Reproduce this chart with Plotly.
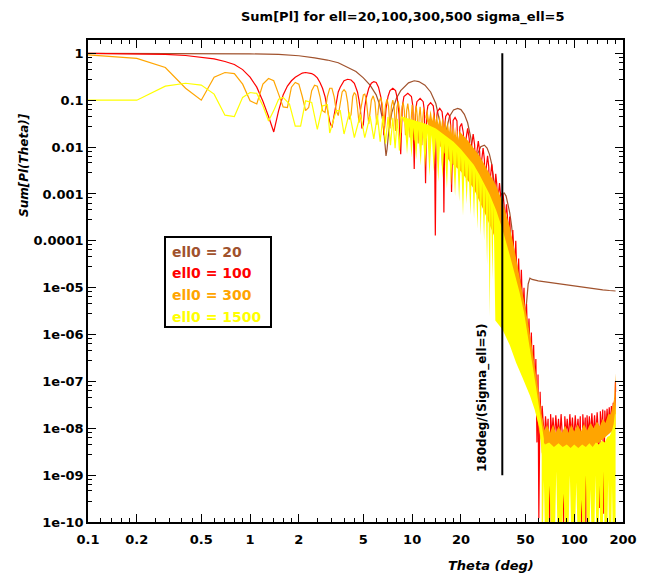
import math
import plotly.graph_objects as go

# ---- data ----
# ell0 = 20 (brown)
theta_20 = [0.1, 0.3, 0.5, 0.7, 1.0, 1.5, 2.0, 2.5, 3.0, 3.5, 4.0, 4.5, 5.0, 5.5, 6.0, 6.3, 6.6, 6.8, 6.9, 7.0,
            7.2, 7.5, 8.0, 8.5, 9.0, 9.5, 10.3, 11.0, 12.0, 13.0, 14.0, 14.8, 15.2, 15.4, 15.6, 16.0, 17.0, 18.0,
            19.1, 20.0, 21.0, 22.0, 23.0, 23.7, 24.1, 24.5, 25.5, 26.5, 27.9, 29.0, 30.0, 31.0, 32.0, 32.7, 33.1,
            33.6, 34.5, 35.5, 37.0, 38.0, 39.0, 40.0, 41.0, 42.0, 42.8, 43.4, 44.0, 45.0, 46.0, 47.0, 48.0, 49.0,
            50.0, 51.0, 52.0, 53.3, 55.0, 60.0, 70.0, 80.0, 90.0, 100.0, 113.0, 130.0, 150.0, 165.0, 180.0]
sum_20 = [1.0, 0.998, 0.995, 0.99, 0.975, 0.95, 0.89, 0.80, 0.72, 0.63, 0.51, 0.41, 0.30, 0.21, 0.13, 0.08, 0.036,
          0.014, 0.0065, 0.009, 0.025, 0.055, 0.11, 0.16, 0.20, 0.235, 0.26, 0.25, 0.21, 0.15, 0.085, 0.035, 0.012,
          0.004, 0.006, 0.018, 0.045, 0.062, 0.067, 0.063, 0.05, 0.033, 0.016, 0.006, 0.002, 0.003, 0.0075, 0.0102,
          0.011, 0.0095, 0.007, 0.0043, 0.0018, 0.0005, 0.0002, 0.0004, 0.0008, 0.001, 0.00105, 0.0009, 0.0006,
          0.0004, 0.00022, 0.0001, 2.5e-5, 5e-7, 1e-5, 1.6e-5, 1.5e-5, 1e-5, 3.5e-6, 2e-7, 2.5e-6, 7e-6, 1.2e-5,
          1.6e-5, 1.5e-5, 1.4e-5, 1.3e-5, 1.2e-5, 1.13e-5, 1.07e-5, 1.0e-5, 9.5e-6, 9.0e-6, 8.7e-6, 8.5e-6]

# ell0 = 100 (red)
theta_100 = [0.1, 0.2, 0.3, 0.4, 0.5, 0.6, 0.7, 0.8, 0.9, 1.0, 1.1, 1.2, 1.3, 1.4, 1.5, 1.6, 1.7, 1.8, 1.9, 2.0,
             2.1, 2.2, 2.3, 2.4, 2.5, 2.6, 2.7, 2.8, 2.9, 3.0, 3.1, 3.2, 3.3, 3.4, 3.5, 3.6, 3.7, 3.8, 4.0, 4.2,
             4.4, 4.5, 4.6, 4.7, 4.8, 4.9, 5.0, 5.1, 5.2, 5.4, 5.6, 5.8, 6.0, 6.2, 6.4, 6.5, 6.6, 6.7, 6.8, 6.9,
             7.1, 7.3, 7.6, 7.9, 8.1, 8.3, 8.5, 8.7, 8.9, 9.4, 9.9, 10.1, 10.3, 10.5, 10.7, 11.2, 11.7, 11.9, 12.1,
             12.3, 12.5, 13.0, 13.5, 13.7, 13.9, 14.1, 14.3, 14.8, 15.3, 15.5, 15.7, 15.9, 16.1, 16.6, 17.1, 17.3,
             17.5, 17.7, 17.9, 18.4, 18.9, 19.3, 19.7, 20.2, 20.7, 21.1, 21.5, 22.0, 22.5, 22.9, 23.3, 23.8, 24.3,
             24.7, 25.1, 25.6, 26.1, 26.5, 26.9, 27.4, 27.9, 28.3, 28.7, 29.2, 29.7, 30.1, 30.5, 31.0, 31.5, 31.9,
             32.3, 32.8, 33.3, 33.7, 34.1, 34.6, 35.1, 35.5, 35.9, 36.4, 36.9, 37.3, 37.7, 38.2, 38.7, 39.1, 39.5,
             40.0, 40.9, 41.8, 42.7, 43.6, 44.5, 45.4, 46.3, 47.2, 48.1, 49.0, 49.9, 50.8, 51.7, 52.6, 53.5, 54.4,
             55.3, 56.2, 57.1, 58.0, 58.9, 59.8, 60.5, 61.6, 62.5, 63.4, 64.5, 65.5, 66.5, 68.0, 69.0, 70.5, 71.5,
             72.8, 74.0, 75.5, 77.0, 78.5, 80.0, 81.5, 83.0, 84.5, 86.0, 87.5, 89.0, 90.5, 92.3, 94.0, 95.8, 97.5,
             99.5, 101.5, 103.5, 105.5, 107.5, 109.0, 111.0, 113.0, 115.0, 117.0, 118.0, 120.0, 122.0, 124.0,
             126.0, 128.5, 131.0, 133.5, 136.0, 138.5, 141.0, 143.0, 145.0, 147.5, 150.0, 152.0, 154.5, 157.0,
             159.5, 162.0, 164.5, 167.0, 169.5, 172.0, 174.0, 176.0, 177.5, 178.8, 179.6, 180.0]
sum_100 = [0.995, 0.98, 0.95, 0.90, 0.83, 0.76, 0.67, 0.58, 0.45, 0.31, 0.19, 0.095, 0.045, 0.021, 0.06, 0.13,
           0.20, 0.26, 0.31, 0.35, 0.38, 0.39, 0.385, 0.37, 0.34, 0.30, 0.24, 0.18, 0.12, 0.07, 0.035, 0.026,
           0.05, 0.10, 0.15, 0.19, 0.23, 0.26, 0.28, 0.27, 0.23, 0.19, 0.15, 0.10, 0.06, 0.025, 0.03, 0.07, 0.11,
           0.18, 0.23, 0.25, 0.24, 0.19, 0.12, 0.08, 0.04, 0.018, 0.035, 0.065, 0.12, 0.16, 0.18, 0.16, 0.11,
           0.05, 0.007, 0.075, 0.12, 0.14, 0.12, 0.075, 0.0034, 0.06, 0.093, 0.11, 0.093, 0.06, 0.0017, 0.05,
           0.076, 0.089, 0.076, 0.05, 0.00013, 0.037, 0.057, 0.067, 0.057, 0.037, 0.0004, 0.029, 0.045, 0.053,
           0.045, 0.029, 0.0011, 0.024, 0.037, 0.043, 0.036, 0.004, 0.027, 0.032, 0.02, 0.003, 0.015, 0.025,
           0.015, 0.0025, 0.011, 0.019, 0.011, 0.002, 0.008, 0.0135, 0.008, 0.0015, 0.0055, 0.0095, 0.0055,
           0.001, 0.0038, 0.0065, 0.0038, 0.0007, 0.0025, 0.0043, 0.0025, 0.0005, 0.0016, 0.0027, 0.0016,
           0.0003, 0.001, 0.0017, 0.001, 0.0002, 0.0006, 0.001, 0.0006, 0.00012, 0.00035, 0.0006, 0.00035,
           7e-5, 0.0002, 0.00033, 4e-5, 0.00017, 2e-5, 0.0001, 1e-5, 4.2e-5, 5e-6, 2.4e-5, 2.5e-6, 1e-5, 1.2e-6,
           4.5e-6, 5e-7, 2.2e-6, 2.5e-7, 1.1e-6, 1.2e-7, 6e-7, 6e-8, 3e-7, 5e-9, 1.4e-7, 1.2e-10, 6e-8, 8e-9,
           3e-8, 1.2e-8, 6e-9, 1.8e-8, 7e-9, 1.6e-8, 6e-11, 2e-8, 7e-9, 1.7e-8, 6e-9, 1.9e-8, 7e-9, 1.6e-8,
           6e-9, 2e-8, 7e-9, 8e-11, 1.8e-8, 7e-9, 1.6e-8, 6e-9, 2e-8, 7e-9, 1.7e-8, 6e-9, 1.9e-8, 7e-9, 1.6e-8,
           6e-9, 1.8e-8, 6e-11, 2e-8, 7e-9, 1.7e-8, 8e-11, 1.9e-8, 7e-9, 1.8e-8, 7e-9, 2.1e-8, 7e-9, 1.9e-8,
           7e-9, 2.2e-8, 8e-9, 2e-10, 2.3e-8, 8e-9, 2.5e-8, 1.5e-10, 2.4e-8, 9e-9, 2.6e-8, 1e-8, 2.8e-8, 1e-8,
           3e-8, 1.2e-8, 3.5e-8, 1.5e-8, 4.5e-8, 2e-8, 1e-7, 6e-8]

# ell0 = 300 (orange), resolved oscillations
theta_300 = [0.1, 0.2, 0.3, 0.4, 0.5, 0.6, 0.7, 0.8, 0.9, 1.0, 1.1, 1.2, 1.3, 1.4, 1.5, 1.6, 1.7, 1.8, 1.9, 2.0,
             2.1, 2.2, 2.3, 2.4, 2.5, 2.6, 2.7, 2.8, 2.9, 3.0, 3.1, 3.2, 3.3, 3.4, 3.5, 3.6, 3.7, 3.8, 3.9, 4.0,
             4.1, 4.2, 4.3, 4.4, 4.5, 4.6, 4.7, 4.8, 5.0, 5.1, 5.2, 5.4, 5.6, 5.75, 5.9, 6.05, 6.25, 6.4, 6.55,
             6.7, 6.85, 7.0, 7.15, 7.3, 7.45, 7.6, 7.75, 7.9, 8.05, 8.2, 8.35, 8.5, 8.65, 8.8, 8.95, 9.1, 9.25,
             9.4, 9.55, 9.7, 9.85, 10.0, 10.15, 10.3, 10.45, 10.6, 10.75, 10.9, 11.05, 11.2, 11.35, 11.5, 11.65,
             11.8]
sum_300 = [0.93, 0.78, 0.50, 0.18, 0.10, 0.31, 0.39, 0.37, 0.22, 0.097, 0.083, 0.22, 0.29, 0.26, 0.135, 0.072,
           0.07, 0.19, 0.24, 0.22, 0.12, 0.06, 0.07, 0.16, 0.21, 0.20, 0.12, 0.06, 0.055, 0.12, 0.18, 0.18, 0.12,
           0.06, 0.047, 0.09, 0.15, 0.167, 0.15, 0.09, 0.039, 0.05, 0.12, 0.146, 0.13, 0.07, 0.033, 0.06, 0.13,
           0.135, 0.11, 0.031, 0.10, 0.124, 0.09, 0.03, 0.09, 0.115, 0.08, 0.028, 0.08, 0.105, 0.075, 0.025,
           0.075, 0.10, 0.07, 0.022, 0.07, 0.095, 0.065, 0.02, 0.065, 0.09, 0.06, 0.018, 0.06, 0.085, 0.055,
           0.016, 0.055, 0.08, 0.05, 0.014, 0.05, 0.076, 0.045, 0.012, 0.045, 0.072, 0.04, 0.011, 0.042, 0.068]
# ell0 = 300, dense band (upper and lower edges) and the floor at large angle
band300_top_theta = [11.8, 12.1, 12.4, 12.7, 13.0, 13.3, 13.6, 13.9, 14.2, 14.5, 14.8, 15.1, 15.4, 15.7, 16.0,
                     16.3, 16.6, 16.9, 17.2, 17.5, 17.8, 18.1, 18.4, 18.7, 19.0, 19.3, 19.6, 20.0, 22, 24, 26, 28,
                     30, 33, 36, 40, 43, 46, 49, 52, 55, 58, 61, 63, 65]
band300_top = [0.068, 0.04, 0.066, 0.038, 0.062, 0.036, 0.057, 0.033, 0.052, 0.03, 0.048, 0.027, 0.044, 0.025,
               0.04, 0.023, 0.036, 0.021, 0.033, 0.019, 0.03, 0.017, 0.027, 0.016, 0.024, 0.014, 0.022, 0.02,
               0.014, 0.0095, 0.0065, 0.0042, 0.0028, 0.0015, 0.0007, 2e-4, 6e-5, 1.7e-5, 6e-6, 1.7e-6, 5e-7,
               1.6e-7, 4.5e-8, 2e-8, 1e-8]
band300_bot_theta = [11.8, 13, 15, 17, 20, 24, 28, 33, 38, 43, 48, 53, 58, 62, 65]
band300_bot = [0.06, 0.02, 0.01, 0.005, 0.003, 0.0013, 4e-4, 1e-4, 1.5e-5, 3e-6, 6e-7, 1.2e-7, 2.5e-8, 6e-9, 4e-9]
floor300_top_theta = [63, 64, 66, 68, 71, 74, 77, 80, 84, 88, 92, 96, 100, 105, 110, 115, 120, 126, 132, 138,
                      144, 150, 156, 162, 168, 173, 176, 178, 179, 179.9, 180]
floor300_top = [2e-8, 1.2e-8, 9e-9, 1.2e-8, 8e-9, 1.2e-8, 8e-9, 1.1e-8, 8e-9, 1.15e-8, 8e-9, 1.2e-8, 8.5e-9,
                1.2e-8, 8.5e-9, 1.25e-8, 9e-9, 1.3e-8, 1e-8, 1.4e-8, 1.1e-8, 1.6e-8, 1.3e-8, 2e-8, 2e-8, 3e-8,
                4e-8, 8e-8, 1.5e-7, 1.5e-7, 5e-8]
floor300_bot_theta = [63, 120, 180]
floor300_bot = [3e-9, 3e-9, 1e-8]

# ell0 = 1500 (yellow), resolved part
theta_1500 = [0.1, 0.2, 0.3, 0.4, 0.5, 0.6, 0.7, 0.8, 0.9, 1.0, 1.1, 1.2, 1.3, 1.4, 1.5, 1.6, 1.75, 1.9, 2.05,
              2.2, 2.4, 2.6, 2.8, 3.0, 3.1, 3.4, 3.6, 3.8, 4.1, 4.4, 4.8, 5.1, 5.5, 5.8, 6.1, 6.35, 6.6, 6.85,
              7.1, 7.35, 7.6, 7.85, 8.1, 8.35, 8.6]
sum_1500 = [0.10, 0.10, 0.20, 0.23, 0.21, 0.135, 0.048, 0.045, 0.115, 0.146, 0.14, 0.076, 0.036, 0.06, 0.105,
            0.115, 0.083, 0.028, 0.028, 0.097, 0.09, 0.024, 0.076, 0.08, 0.02, 0.06, 0.06, 0.019, 0.055, 0.016,
            0.05, 0.016, 0.046, 0.015, 0.048, 0.013, 0.046, 0.012, 0.044, 0.011, 0.042, 0.0095, 0.04, 0.0085,
            0.045]
band1500_top_theta = [8.6, 10, 12, 14, 16, 18, 20, 22, 24, 26, 28, 30, 33, 36, 40, 43, 46, 49, 52, 55, 58, 61,
                      63, 65]
band1500_top = [0.045, 0.039, 0.032, 0.025, 0.018, 0.013, 0.009, 0.0062, 0.0042, 0.0026, 0.0016, 0.001,
                0.00045, 0.00018, 5e-5, 2e-5, 8e-6, 3e-6, 9e-7, 2.8e-7, 8e-8, 2.5e-8, 1.3e-8, 6e-9]
band1500_bot_theta = [8.6, 9.0, 9.3, 9.6, 9.9, 10.2, 10.6, 10.9, 11.3, 11.6, 12.0, 12.4, 12.8, 13.2, 13.6, 14.0,
                      14.5, 14.9, 15.4, 15.8, 16.4, 16.8, 17.4, 17.8, 18.4, 18.9, 19.5, 20.0, 20.6, 21.1, 21.7,
                      22.2, 22.9, 23.4, 24.1, 24.6, 25.3, 25.8, 26.5, 27.0, 27.8, 28.3, 29.0, 29.5, 30.1, 30.6,
                      31.3, 31.8, 32.6, 36, 40, 43.8, 48, 53.3, 57, 61, 63, 65]
band1500_bot = [0.045, 0.03, 0.007, 0.028, 0.006, 0.026, 0.0055, 0.024, 0.004, 0.022, 0.0035, 0.02, 0.0024,
                0.018, 0.003, 0.016, 0.0018, 0.014, 0.0022, 0.012, 0.0013, 0.011, 0.0015, 0.009, 0.0009, 0.008,
                0.0007, 0.0065, 0.00034, 0.0055, 0.0006, 0.0045, 0.00035, 0.0036, 0.0003, 0.003, 0.00018, 0.0022,
                0.00013, 0.0017, 0.0001, 0.0013, 3e-5, 0.001, 2.5e-6, 0.0007, 1.5e-5, 0.00055, 2e-6, 1.3e-6, 6e-7,
                2.5e-7, 1.2e-7, 5e-8, 2.5e-8, 1e-8, 3e-9, 1e-9]
floor1500_top_theta = [63, 66, 70, 75, 80, 85, 90, 95, 100, 106, 112, 118, 124, 130, 136, 142, 148, 154, 160,
                       166, 171, 175, 178, 179.5, 180]
floor1500_top = [6e-9, 4.5e-9, 5e-9, 4e-9, 4.8e-9, 4e-9, 4.5e-9, 3.8e-9, 4.5e-9, 3.8e-9, 4.5e-9, 4e-9, 4.8e-9,
                 4e-9, 5e-9, 4.5e-9, 5.5e-9, 5e-9, 6.5e-9, 7e-9, 9e-9, 1.2e-8, 2e-8, 4e-8, 2e-8]
floor1500_bot_theta = [63, 64, 65, 66, 69, 70.5, 72, 76, 77.5, 79, 84, 86, 88, 92, 94, 96, 101, 103, 105, 109,
                       111, 113, 116, 118, 120, 124, 126, 128, 133, 135, 137, 141, 143, 145, 150, 152, 154, 160,
                       162, 164, 169, 171, 173, 180]
floor1500_bot = [5e-11, 5e-11, 8e-10, 5e-11, 5e-11, 6e-10, 5e-11, 5e-11, 1.2e-9, 5e-11, 5e-11, 4e-10, 5e-11,
                 5e-11, 1e-9, 5e-11, 5e-11, 7e-10, 5e-11, 5e-11, 3e-10, 5e-11, 5e-11, 1e-9, 5e-11, 5e-11, 5e-10,
                 5e-11, 5e-11, 1e-9, 5e-11, 5e-11, 6e-10, 5e-11, 5e-11, 1.2e-9, 5e-11, 5e-11, 8e-10, 5e-11, 5e-11,
                 6e-10, 5e-11, 5e-11]

# marker line at 180deg/sigma_ell
theta_mark = [36, 36]
sum_mark = [1e-9, 1]

legend_labels = ["ell0 = 20", "ell0 = 100", "ell0 = 300", "ell0 = 1500"]
x_ticks = [0.1, 0.2, 0.5, 1, 2, 5, 10, 20, 50, 100, 200]
y_ticks = [1, 0.1, 0.01, 0.001, 0.0001, 1e-5, 1e-6, 1e-7, 1e-8, 1e-9, 1e-10]
y_ticktext = ["1", "0.1", "0.01", "0.001", "0.0001", "1e-05", "1e-06", "1e-07", "1e-08", "1e-09", "1e-10"]

BROWN, RED, ORANGE, YELLOW = "#A0522D", "#FF0000", "#FFA500", "#FFFF00"
FONT = "DejaVu Sans"

# minor ticks split each major interval into 5 equal steps
x_minor = []
for a, b in zip(x_ticks[:-1], x_ticks[1:]):
    x_minor += [a + (b - a) * k / 5 for k in range(1, 5)]
y_minor = []
for e in range(-10, 0):
    a, b = 10 ** e, 10 ** (e + 1)
    y_minor += [a + (b - a) * k / 5 for k in range(1, 5)]

# plot area in page pixels (page body has an 8px margin)
L, R, T, B = 88, 623, 40, 522


def px(x, y):
    # page pixel -> paper coords of the plot area
    return (x - L) / (R - L), (B - y) / (B - T)


def band(xt, yt, xb, yb, color):
    return go.Scatter(x=xt + xb[::-1], y=yt + yb[::-1], fill="toself", fillcolor=color,
                      line=dict(width=0, color=color), mode="lines", hoverinfo="skip")


fig = go.Figure()
fig.add_trace(go.Scatter(x=theta_20, y=sum_20, mode="lines", line=dict(color=BROWN, width=1.2)))
fig.add_trace(go.Scatter(x=theta_100, y=sum_100, mode="lines", line=dict(color=RED, width=1.2)))
fig.add_trace(go.Scatter(x=theta_300, y=sum_300, mode="lines", line=dict(color=ORANGE, width=1.2)))
fig.add_trace(band(band300_top_theta, band300_top, band300_bot_theta, band300_bot, ORANGE))
fig.add_trace(band(floor300_top_theta, floor300_top, floor300_bot_theta, floor300_bot, ORANGE))
fig.add_trace(go.Scatter(x=theta_1500, y=sum_1500, mode="lines", line=dict(color=YELLOW, width=1.2)))
fig.add_trace(band(band1500_top_theta, band1500_top, band1500_bot_theta, band1500_bot, YELLOW))
fig.add_trace(band(floor1500_top_theta, floor1500_top, floor1500_bot_theta, floor1500_bot, YELLOW))
fig.add_trace(go.Scatter(x=theta_mark, y=sum_mark, mode="lines", line=dict(color="black", width=2)))

tickfont = dict(family=FONT, size=13, color="black", weight="bold")
axis_common = dict(type="log", showline=True, linecolor="black", linewidth=1.5, mirror="ticks",
                   ticks="inside", ticklen=8, tickwidth=1, tickcolor="black", showgrid=False,
                   zeroline=False, tickfont=tickfont,
                   minor=dict(ticks="inside", ticklen=4, tickwidth=1, tickcolor="black", showgrid=False))

fig.update_layout(
    width=649, height=575,
    margin=dict(l=L - 8, r=657 - R, t=T - 8, b=575 - (B - 8)),
    paper_bgcolor="white", plot_bgcolor="white",
    showlegend=False,
    xaxis=dict(axis_common, range=[-1, math.log10(200)], tickvals=x_ticks,
               ticktext=[str(v) for v in x_ticks], ticklabelstandoff=5),
    yaxis=dict(axis_common, range=[-10, 0.285], tickvals=y_ticks, ticktext=y_ticktext),
)
fig.update_xaxes(minor_tickvals=x_minor)
fig.update_yaxes(minor_tickvals=y_minor)

# legend: framed box with coloured labels only
x0, y0 = px(165, 237)
x1, y1 = px(271, 327)
fig.add_shape(type="rect", xref="paper", yref="paper", x0=x0, y0=y0, x1=x1, y1=y1,
              line=dict(color="black", width=2), fillcolor="white", layer="above")
for i, (c, t) in enumerate(zip([BROWN, RED, ORANGE, YELLOW], legend_labels)):
    lx, ly = px(170, 251.5 + 21.7 * i)
    fig.add_annotation(text=f"<b>{t}</b>", xref="paper", yref="paper", x=lx, y=ly, xanchor="left",
                       yanchor="middle", showarrow=False, font=dict(family=FONT, size=14, color=c))

tx, ty = px(403, 17)
fig.add_annotation(text="<b>Sum[Pl] for ell=20,100,300,500 sigma_ell=5</b>", xref="paper", yref="paper",
                   x=tx, y=ty, xanchor="center", yanchor="middle", showarrow=False,
                   font=dict(family=FONT, size=13, color="black"))
ax, ay = px(482, 398)
fig.add_annotation(text="<b>180deg/(Sigma_ell=5)</b>", xref="paper", yref="paper", x=ax, y=ay,
                   xanchor="center", yanchor="middle", textangle=-90, showarrow=False,
                   font=dict(family=FONT, size=12, color="black"))
ax, ay = px(491, 565)
fig.add_annotation(text="<b><i>Theta (deg)</i></b>", xref="paper", yref="paper", x=ax, y=ay,
                   xanchor="center", yanchor="middle", showarrow=False,
                   font=dict(family=FONT, size=13, color="black"))
ax, ay = px(24, 165)
fig.add_annotation(text="<b><i>Sum[Pl(Theta)]</i></b>", xref="paper", yref="paper", x=ax, y=ay,
                   xanchor="center", yanchor="middle", textangle=-90, showarrow=False,
                   font=dict(family=FONT, size=12, color="black"))

fig.write_html("out.html")
